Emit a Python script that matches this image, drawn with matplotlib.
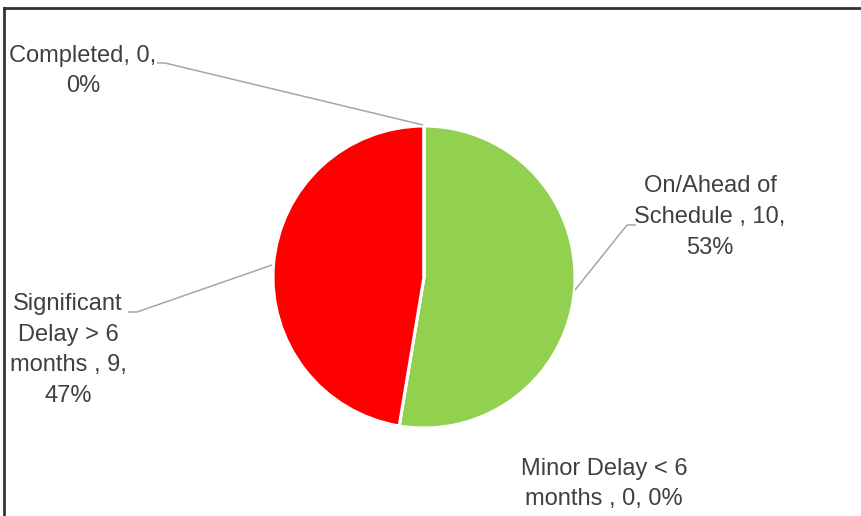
import matplotlib
matplotlib.use("Agg")
import matplotlib.pyplot as plt
from matplotlib.lines import Line2D

# Project status counts
categories = ["On/Ahead of\nSchedule ", "Minor Delay < 6\nmonths ",
              "Significant\nDelay > 6\nmonths ", "Completed"]
counts = [10, 0, 9, 0]
colors = ["#92D050", "#FFC000", "#FF0000", "#4472C4"]
pct_sep = ["\n", " ", "\n", "\n"]

W, H = 862, 516
fig = plt.figure(figsize=(W / 100, H / 100), dpi=100)
ax = fig.add_axes([0, 0, 1, 1])
ax.set_xlim(0, W)
ax.set_ylim(0, H)
ax.axis("off")

cx, cy, r = 424, H - 277, 151
wedges, _ = ax.pie(counts, colors=colors, startangle=90, counterclock=False,
                   center=(cx, cy), radius=r,
                   wedgeprops=dict(edgecolor="white", linewidth=2.2))
ax.set_xlim(0, W)
ax.set_ylim(0, H)
ax.set_aspect("equal")

total = sum(counts)
labels = []
for cat, v, sep in zip(categories, counts, pct_sep):
    labels.append(f"{cat}, {v},{sep}{round(100 * v / total)}%")

font = dict(family=["Liberation Sans", "DejaVu Sans"],
            size=17, color="#404040", linespacing=1.52)

# label positions (text centre) and leader polylines
label_pos = [(710, H - 217), (604, H - 484), (68, H - 350), (83, H - 71)]
leaders = [
    [(575, 290), (627, 225), (636, 225)],
    None,
    [(272, 265), (137, 312), (128, 312)],
    [(423, 125), (165, 63), (157, 63)],
]
for lab, (tx, ty), ld in zip(labels, label_pos, leaders):
    ax.text(tx, ty, lab, ha="center", va="center", **font)
    if ld:
        xs = [p[0] for p in ld]
        ys = [H - p[1] for p in ld]
        ax.plot(xs, ys, color="#A6A6A6", linewidth=1.1, solid_capstyle="butt")

# chart frame (top and left edges visible)
fig.add_artist(Line2D([4 / W, 1], [1 - 7.5 / H, 1 - 7.5 / H],
                      transform=fig.transFigure, color="#333333", linewidth=2))
fig.add_artist(Line2D([4.5 / W, 4.5 / W], [0, 1 - 7.5 / H],
                      transform=fig.transFigure, color="#333333", linewidth=2))

fig.savefig("out.png", dpi=100, facecolor="white")
